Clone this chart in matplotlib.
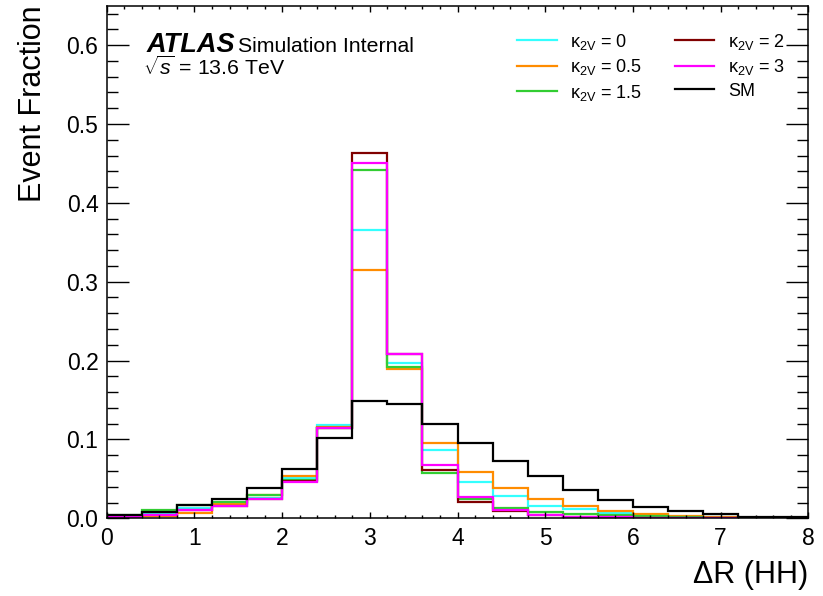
import matplotlib
matplotlib.use("Agg")
import matplotlib.pyplot as plt
import numpy as np

plt.rcParams['font.family'] = ['Liberation Sans', 'DejaVu Sans']
plt.rcParams['mathtext.fontset'] = 'custom'
plt.rcParams['mathtext.rm'] = 'Liberation Sans'
plt.rcParams['mathtext.it'] = 'Liberation Sans:italic'
plt.rcParams['mathtext.bf'] = 'Liberation Sans:bold'

# dR(HH) binning: 20 bins from 0 to 8
bin_edges = np.linspace(0, 8, 21)

# event fractions
k2v_0 = [0.003, 0.007, 0.013, 0.019, 0.026, 0.051, 0.118, 0.365, 0.197, 0.086,
         0.046, 0.028, 0.016, 0.012, 0.0063, 0.004, 0.002, 0.001, 0.0005, 0.0003]
k2v_05 = [0.002, 0.0025, 0.007, 0.018, 0.029, 0.054, 0.116, 0.315, 0.189, 0.096,
          0.059, 0.038, 0.025, 0.0152, 0.0089, 0.0055, 0.0034, 0.0015, 0.0006, 0.0003]
k2v_15 = [0.004, 0.010, 0.0165, 0.0207, 0.029, 0.049, 0.115, 0.442, 0.192, 0.057,
          0.025, 0.013, 0.008, 0.006, 0.004, 0.0025, 0.0015, 0.0008, 0.0004, 0.0002]
k2v_2 = [0.0017, 0.004, 0.011, 0.016, 0.025, 0.047, 0.115, 0.463, 0.208, 0.061,
         0.021, 0.009, 0.004, 0.002, 0.001, 0.0006, 0.0003, 0.0002, 0.0001, 0.0001]
k2v_3 = [0.0017, 0.004, 0.010, 0.015, 0.024, 0.0456, 0.114, 0.450, 0.208, 0.0675,
         0.0266, 0.010, 0.0038, 0.002, 0.001, 0.0006, 0.0003, 0.0002, 0.0001, 0.0001]
sm = [0.004, 0.008, 0.0165, 0.024, 0.039, 0.062, 0.102, 0.1485, 0.1443, 0.119,
      0.096, 0.072, 0.053, 0.036, 0.0236, 0.0143, 0.0089, 0.0055, 0.0022, 0.001]

fig = plt.figure(figsize=(8.23, 5.96), dpi=100)
ax = fig.add_axes([0.1297, 0.1304, 0.8525, 0.8601])

ax.stairs(k2v_0, bin_edges, color='#33ffff', lw=1.6, label=r'κ$_{\mathrm{2V}}$ = 0')
ax.stairs(k2v_05, bin_edges, color='#ff8c00', lw=1.6, label=r'κ$_{\mathrm{2V}}$ = 0.5')
ax.stairs(k2v_15, bin_edges, color='#32cd32', lw=1.6, label=r'κ$_{\mathrm{2V}}$ = 1.5')
ax.stairs(k2v_2, bin_edges, color='#800000', lw=1.6, label=r'κ$_{\mathrm{2V}}$ = 2')
ax.stairs(k2v_3, bin_edges, color='#ff00ff', lw=1.6, label=r'κ$_{\mathrm{2V}}$ = 3')
ax.stairs(sm, bin_edges, color='black', lw=1.6, label='SM')

ax.set_xlim(0, 8)
ax.set_ylim(0, 0.65)
ax.set_xticks(np.arange(0, 9, 1))
ax.set_xticks(np.arange(0, 8.01, 0.2), minor=True)
ax.set_yticks(np.arange(0, 0.61, 0.1))
ax.set_yticks(np.arange(0, 0.65, 0.02), minor=True)
ax.yaxis.set_major_formatter(matplotlib.ticker.FormatStrFormatter('%.1f'))

ax.tick_params(axis='both', which='both', direction='in', top=True, right=True,
               labelsize=16.5, width=1.0)
ax.tick_params(axis='y', which='major', length=15.5, pad=6)
ax.tick_params(axis='y', which='minor', length=7.7)
ax.tick_params(axis='x', which='major', length=4.3, pad=6)
ax.tick_params(axis='x', which='minor', length=2.2)
for sp in ax.spines.values():
    sp.set_linewidth(1.1)

ax.set_xlabel('ΔR (HH)', fontsize=22, loc='right', labelpad=7.5)
ax.set_ylabel('Event Fraction', fontsize=22, loc='top', labelpad=13)

ax.text(0.0565, 0.910, 'ATLAS', transform=ax.transAxes, fontsize=19.5,
        fontweight='bold', fontstyle='italic', va='baseline')
ax.text(0.187, 0.910, 'Simulation Internal', transform=ax.transAxes,
        fontsize=15.3, va='baseline')
ax.text(0.052, 0.865, r'$\sqrt{s}$ = 13.6 TeV', transform=ax.transAxes,
        fontsize=15.3, va='baseline')

ax.legend(ncol=2, loc='upper left', bbox_to_anchor=(0.5848, 0.949), frameon=False,
          fontsize=13, handlelength=2.2, handletextpad=0.75, columnspacing=1.8,
          labelspacing=0.3, borderpad=0, borderaxespad=0)

fig.savefig('out.png', dpi=100)
